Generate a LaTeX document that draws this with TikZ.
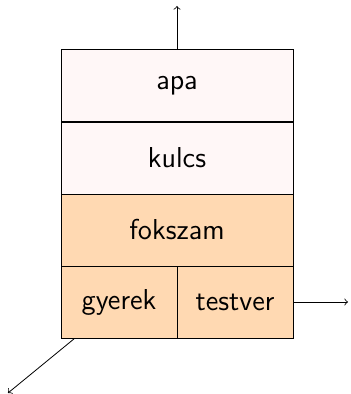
\documentclass[tikz,border=0pt]{standalone}
\begin{document}
\begin{tikzpicture}[x=1pt,y=1pt,
  cell/.style={draw=black, rectangle, inner sep=0pt, minimum height=36pt, font=\sffamily\Large},
  wide/.style={cell, minimum width=116pt},
  half/.style={cell, minimum width=58pt},
  light/.style={fill=red!3},
  warm/.style={fill=orange!30},
  link/.style={->, line width=0.4pt}]
\useasboundingbox (0,0) rectangle (175,197);
\node[wide, light] (apa) at (88.5,154.25) {apa};
\node[wide, light] (kulcs) at (88.5,118) {kulcs};
\node[wide, warm] (fokszam) at (88.5,82) {fokszam};
\node[half, warm] (gyerek) at (59.5,46) {gyerek};
\node[half, warm] (testver) at (117.5,46) {testver};
\coordinate (up) at (88.5,194);
\coordinate (right) at (174,46);
\coordinate (dl) at (4,0.5);
\draw[link] (apa.north) -- (up);
\draw[link] (testver.east) -- (right);
\draw[link] ([xshift=7pt]gyerek.south west) -- (dl);
\end{tikzpicture}
\end{document}
